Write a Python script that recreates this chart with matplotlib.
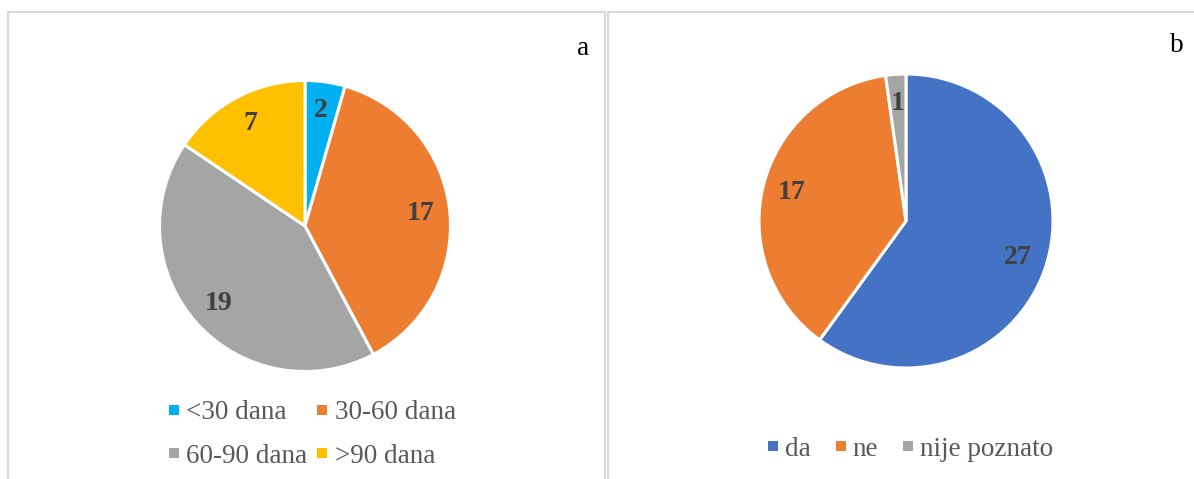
import matplotlib
matplotlib.use("Agg")
import matplotlib.pyplot as plt
from matplotlib.lines import Line2D
from matplotlib.patches import Rectangle

plt.rcParams['font.family'] = ['Liberation Serif', 'DejaVu Serif']

# panel a: duration groups
dur_labels = ['<30 dana', '30-60 dana', '60-90 dana', '>90 dana']
dur_counts = [2, 17, 19, 7]
dur_colors = ['#00B0F0', '#ED7D31', '#A5A5A5', '#FFC000']

# panel b: yes / no / unknown
ans_labels = ['da', 'ne', 'nije poznato']
ans_counts = [27, 17, 1]
ans_colors = ['#4472C4', '#ED7D31', '#A5A5A5']

W, H = 1194, 479
fig = plt.figure(figsize=(W / 100, H / 100), dpi=100)

# light grey frames around the two panels
for x0, x1 in [(8, 605), (608, 1210)]:
    fig.patches.append(Rectangle((x0 / W, -0.1), (x1 - x0) / W, 1.1 - 12 / H,
                                 transform=fig.transFigure, fill=False,
                                 edgecolor='#D9D9D9', linewidth=1.5))


def pie_panel(cx, cy, r, counts, colors):
    half = r * 1.1
    ax = fig.add_axes([(cx - half) / W, 1 - (cy + half) / H, 2 * half / W, 2 * half / H])
    total = sum(counts)
    ax.pie(counts, colors=colors, startangle=90, counterclock=False,
           autopct=lambda p: f'{round(p * total / 100)}', pctdistance=0.8,
           wedgeprops=dict(edgecolor='white', linewidth=2.2),
           textprops=dict(fontsize=20, fontweight='bold', color='#404040'))
    ax.set_xlim(-1.1, 1.1)
    ax.set_ylim(-1.1, 1.1)
    ax.set_aspect('auto')
    ax.axis('off')
    return ax


pie_panel(305, 226, 145.5, dur_counts, dur_colors)
pie_panel(906, 221, 147, ans_counts, ans_colors)

fig.text(583 / W, 1 - 55 / H, 'a', fontsize=19.5, ha='center', va='baseline')
fig.text(1177 / W, 1 - 52 / H, 'b', fontsize=19.5, ha='center', va='baseline')


def handles(colors):
    return [Line2D([], [], linestyle='none', marker='s', markersize=6.5,
                   markeredgewidth=0, color=c) for c in colors]


leg_kw = dict(frameon=False, fontsize=19.5, labelcolor='#595959',
              handlelength=0.3, handletextpad=0.3, borderpad=0, borderaxespad=0)

# legend fills column by column, so reorder to read row by row
order = [0, 2, 1, 3]
fig.legend([handles(dur_colors)[i] for i in order], [dur_labels[i] for i in order],
           ncol=2, loc='center', bbox_to_anchor=(313 / W, 1 - 434.5 / H),
           columnspacing=0.4, labelspacing=0.7, **leg_kw)
fig.legend(handles(ans_colors), ans_labels, ncol=3, loc='center',
           bbox_to_anchor=(911 / W, 1 - 449 / H), columnspacing=0.95, **leg_kw)

fig.savefig('out.png', dpi=100)
